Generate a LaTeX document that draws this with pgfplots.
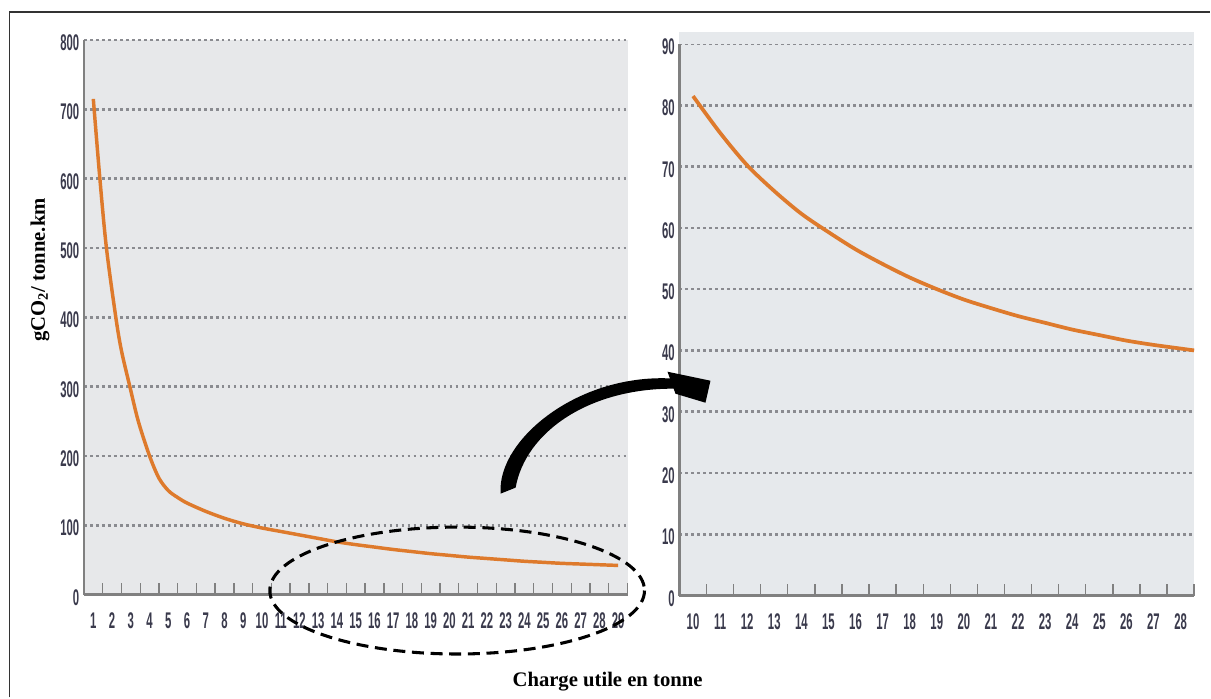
\documentclass[border=0pt]{standalone}
\usepackage{fontspec}
\setmainfont{Liberation Serif}
\newfontfamily\condfont[FakeStretch=0.5]{Liberation Sans Bold}
\usepackage{pgfplots}
\pgfplotsset{compat=1.18}
\definecolor{bg}{HTML}{E7E8EA}
\definecolor{bgr}{HTML}{E6E9EC}
\definecolor{gridc}{HTML}{8A8B90}
\definecolor{axc}{HTML}{808080}
\definecolor{curvec}{HTML}{DE7A2C}
\definecolor{tickc}{HTML}{3A3A4C}
\pgfplotsset{
  panel/.style={
    scale only axis,
    anchor=south west,
    axis x line*=bottom,
    axis y line*=left,
    axis line style={axc, line width=1.8pt, -},
    axis background/.style={fill=#1},
    ymajorgrids,
    grid style={gridc, line width=2pt, dash pattern=on 2pt off 2.5pt},
    major tick length=0pt,
    minor tick length=9pt,
    tick align=inside,
    minor tick style={axc, line width=1pt},
    /pgf/number format/assume math mode=true,
    ticklabel style={font=\condfont\fontsize{17pt}{17pt}\selectfont, text=tickc},
    xticklabel style={yshift=-10pt},
    yticklabel style={yshift=-2pt},
    clip=false,
  }
}
\begin{document}
\begin{tikzpicture}
\begin{scope}[x=0.75pt,y=-0.75pt]
\useasboundingbox (0,0) rectangle (1211,698);
\end{scope}

% Left panel
\begin{axis}[panel=bg,
  at={(63pt,-446.25pt)},
  width=408pt, height=416.25pt,
  xmin=0.5, xmax=29.5, ymin=0, ymax=800,
  xtick={1,...,29},
  minor xtick={1.5,2.5,...,29.5},
  ytick={0,100,...,800},
]
\addplot[curvec, line width=2.6pt, smooth, tension=0.5] coordinates {
(1,715) (1.35,600) (1.7,500) (2.2,400) (2.5,352) (2.95,300) (3.4,250) (4,200)
(4.5,168) (5,150) (5.5,140) (6,132) (7,120) (8,110) (9,102) (10,96) (11,91)
(12,86) (13,81) (14,76) (15,72) (16,68.5) (17,65) (18,62) (19,59) (20,56.5)
(21,54) (22,52) (23,50) (24,48) (25,46.5) (26,45) (27,44) (28,43) (29,42)
};
\end{axis}

% Right panel
\begin{axis}[panel=bgr,
  at={(510pt,-447pt)},
  width=386.25pt, height=414pt,
  xmin=9.5, xmax=28.5, ymin=0, ymax=90,
  xtick={10,...,28},
  minor xtick={10.5,11.5,...,28.5},
  ytick={0,10,...,90},
]
\fill[bgr] (axis cs:9.5,90) rectangle (axis cs:28.5,92);
\addplot[curvec, line width=2.8pt, smooth] coordinates {
(10,81.5) (11,75.5) (12,70.2) (13,66) (14,62.3) (15,59.3) (16,56.5) (17,54.1)
(18,51.9) (19,50) (20,48.3) (21,46.9) (22,45.6) (23,44.5) (24,43.4) (25,42.5)
(26,41.6) (27,40.9) (28,40.3) (28.5,40)
};
\end{axis}

\begin{scope}[x=0.75pt,y=-0.75pt]
% frame
\draw[line width=1.4pt, black!80] (9.5,698) -- (9.5,12) -- (1211,12);
% labels
\node[rotate=90, font=\bfseries\fontsize{15.5pt}{15.5pt}\selectfont] at (40,270) {gCO\textsubscript{2}/ tonne.km};
\node[font=\bfseries\fontsize{15.5pt}{15.5pt}\selectfont] at (608,682) {Charge utile en tonne};
% ellipse
\draw[line width=2.3pt, dash pattern=on 9pt off 5pt] (457.5,591) ellipse [x radius=187.5, y radius=63.5];
% arrow
\fill (501,494) .. controls (497,440) and (580,372) .. (676,379)
  -- (676,389) .. controls (590,388) and (526,432) .. (516,488) -- cycle;
\fill (668,372) -- (711,381) -- (706,403) -- (676,394) -- cycle;
\end{scope}
\end{tikzpicture}
\end{document}
